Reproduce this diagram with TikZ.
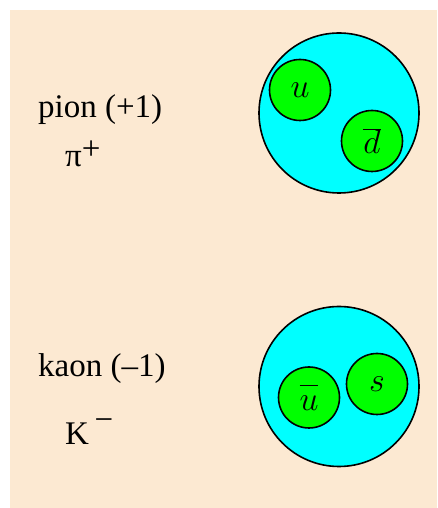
\RequirePackage{fix-cm}
\documentclass[tikz,border=0pt]{standalone}
\usepackage{fontspec}
\setmainfont{Liberation Serif}
\usetikzlibrary{positioning}

\definecolor{peach}{RGB}{252,233,210}
\definecolor{mesoncyan}{RGB}{0,255,255}
\definecolor{quarkgreen}{RGB}{0,255,0}

\newcommand{\chargesup}[2]{\raisebox{#1}{#2}}

\tikzset{
  meson/.style={circle,draw=black,line width=1.6pt,fill=mesoncyan,minimum size=160pt,inner sep=0pt},
  quark/.style={circle,draw=black,line width=1.6pt,fill=quarkgreen,minimum size=61pt,inner sep=0pt,font=\fontsize{34}{40}\selectfont},
  mesontext/.style={anchor=base west,inner sep=0pt,font=\fontsize{33}{40}\selectfont}
}

\begin{document}
\begin{tikzpicture}[x=1pt,y=1pt]
\useasboundingbox (0,0) rectangle (437,508);
\fill[peach] (10,0) rectangle (437,498);

% pion
\node[mesontext] (pionname) at (38,390) {pion (+1)};
\node[mesontext] (pionsym) at (65,341) {π\chargesup{7pt}{+}};
\node[meson] (pion) at (339,395) {};
\node[quark] (u) at (300,418) {$u$};
\node[quark] (dbar) at (372,367) {$\overline{d}$};

% kaon
\node[mesontext] (kaonname) at (38,131) {kaon (–1)};
\node[mesontext] (kaonsym) at (65,63) {K\,\chargesup{14pt}{−}};
\node[meson] (kaon) at (339,121.5) {};
\node[quark] (ubar) at (309,110.5) {$\overline{\vphantom{l}u}$};
\node[quark] (s) at (377,124) {$s$};

\end{tikzpicture}
\end{document}
